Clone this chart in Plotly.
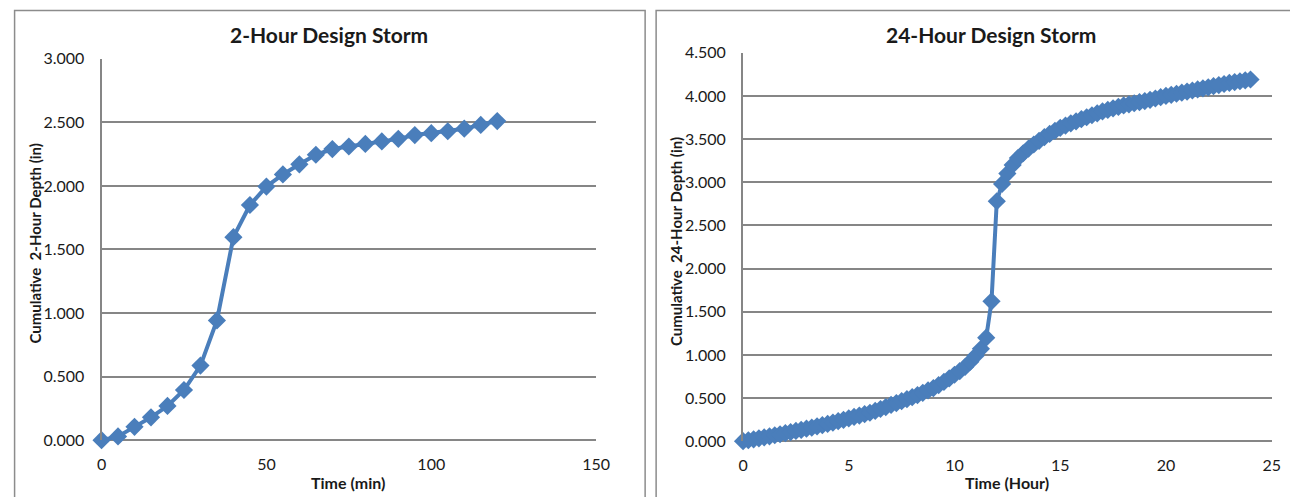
import plotly.graph_objects as go

# ---------------- data ----------------
time_2hr_min = [0, 5, 10, 15, 20, 25, 30, 35, 40, 45, 50, 55, 60, 65, 70, 75, 80,
                85, 90, 95, 100, 105, 110, 115, 120]
depth_2hr_in = [0.000, 0.030, 0.105, 0.180, 0.270, 0.395, 0.587, 0.942, 1.597, 1.850,
                1.995, 2.090, 2.170, 2.245, 2.290, 2.310, 2.330, 2.350, 2.370, 2.400,
                2.415, 2.430, 2.450, 2.480, 2.510]

time_24hr_hr = [0.00, 0.25, 0.50, 0.75, 1.00, 1.25, 1.50, 1.75, 2.00, 2.25, 2.50, 2.75,
                3.00, 3.25, 3.50, 3.75, 4.00, 4.25, 4.50, 4.75, 5.00, 5.25, 5.50, 5.75,
                6.00, 6.25, 6.50, 6.75, 7.00, 7.25, 7.50, 7.75, 8.00, 8.25, 8.50, 8.75,
                9.00, 9.25, 9.50, 9.75, 10.00, 10.25, 10.50, 10.75, 11.00, 11.25, 11.50, 11.75,
                12.00, 12.25, 12.50, 12.75, 13.00, 13.25, 13.50, 13.75, 14.00, 14.25, 14.50, 14.75,
                15.00, 15.25, 15.50, 15.75, 16.00, 16.25, 16.50, 16.75, 17.00, 17.25, 17.50, 17.75,
                18.00, 18.25, 18.50, 18.75, 19.00, 19.25, 19.50, 19.75, 20.00, 20.25, 20.50, 20.75,
                21.00, 21.25, 21.50, 21.75, 22.00, 22.25, 22.50, 22.75, 23.00, 23.25, 23.50, 23.75,
                24.00]
depth_24hr_in = [0.000, 0.011, 0.022, 0.034, 0.045, 0.057, 0.069, 0.081, 0.093, 0.106, 0.119, 0.132,
                 0.145, 0.158, 0.172, 0.186, 0.200, 0.216, 0.232, 0.248, 0.265, 0.281, 0.297, 0.313,
                 0.330, 0.351, 0.373, 0.396, 0.420, 0.442, 0.464, 0.487, 0.510, 0.535, 0.561, 0.588,
                 0.615, 0.650, 0.687, 0.727, 0.770, 0.813, 0.860, 0.922, 0.990, 1.070, 1.200, 1.620,
                 2.780, 2.980, 3.100, 3.200, 3.280, 3.336, 3.390, 3.437, 3.480, 3.522, 3.560, 3.596,
                 3.630, 3.656, 3.682, 3.706, 3.730, 3.753, 3.776, 3.798, 3.820, 3.838, 3.856, 3.873,
                 3.890, 3.903, 3.915, 3.928, 3.940, 3.955, 3.970, 3.985, 4.000, 4.013, 4.025, 4.038,
                 4.050, 4.063, 4.075, 4.088, 4.100, 4.113, 4.125, 4.138, 4.150, 4.160, 4.170, 4.180,
                 4.190]

y_ticks_2hr = [0, 0.5, 1.0, 1.5, 2.0, 2.5, 3.0]
y_ticks_24hr = [0, 0.5, 1.0, 1.5, 2.0, 2.5, 3.0, 3.5, 4.0, 4.5]
x_ticks_2hr = [0, 50, 100, 150]
x_ticks_24hr = [0, 5, 10, 15, 20, 25]

# ---------------- styling ----------------
W, H = 1290, 497
BLUE = "#4A7EBB"
GRID = "#868686"
FONT = "Lato, 'Open Sans', sans-serif"
TXT = "#1a1a1a"

# map a target on-picture pixel position to a paper fraction
SX, OX, SY, OY = 0.986, 4.4, 0.9606, 10.3

def px_x(p):
    return ((p - OX) / SX) / W

def px_y(p):
    return max(0.0, min(1.0, 1 - ((p - OY) / SY) / H))

fig = go.Figure()

marker = dict(symbol="diamond", size=14, color=BLUE, line=dict(width=0))
fig.add_trace(go.Scatter(x=time_2hr_min, y=depth_2hr_in, mode="lines+markers",
                         line=dict(color=BLUE, width=4), marker=marker,
                         xaxis="x", yaxis="y", showlegend=False, cliponaxis=False))
fig.add_trace(go.Scatter(x=time_24hr_hr, y=depth_24hr_in, mode="lines+markers",
                         line=dict(color=BLUE, width=4), marker=marker,
                         xaxis="x2", yaxis="y2", showlegend=False, cliponaxis=False))

def xaxis(domain, rng, ticks, anchor):
    return dict(domain=domain, range=rng, tickvals=ticks, ticktext=[str(t) for t in ticks],
                showgrid=False, zeroline=False, showline=False, ticks="",
                tickfont=dict(family=FONT, size=16, color=TXT), ticklabelstandoff=13,
                anchor=anchor, fixedrange=True)

def yaxis(domain, rng, ticks, anchor):
    return dict(domain=domain, range=rng, tickvals=ticks, tickformat=".3f",
                showgrid=True, gridcolor=GRID, gridwidth=2,
                zeroline=True, zerolinecolor=GRID, zerolinewidth=2,
                showline=True, linecolor=GRID, linewidth=2, ticks="",
                tickfont=dict(family=FONT, size=16, color=TXT), ticklabelstandoff=12,
                anchor=anchor, fixedrange=True)

fig.update_layout(
    width=W, height=H,
    margin=dict(l=0, r=0, t=0, b=0),
    paper_bgcolor="white", plot_bgcolor="white",
    xaxis=xaxis([px_x(101), px_x(596)], [0, 150], x_ticks_2hr, "y"),
    yaxis=yaxis([px_y(440), px_y(59)], [0, 3.0], y_ticks_2hr, "x"),
    xaxis2=xaxis([px_x(743), px_x(1272)], [0, 25], x_ticks_24hr, "y2"),
    yaxis2=yaxis([px_y(441), px_y(53)], [0, 4.5], y_ticks_24hr, "x2"),
)

# panel borders
shapes = [
    dict(type="rect", xref="paper", yref="paper", x0=px_x(14), x1=px_x(645),
         y0=-0.1, y1=0.999, line=dict(color="#8c8c8c", width=1.5)),
    dict(type="rect", xref="paper", yref="paper", x0=px_x(656), x1=1.1,
         y0=-0.1, y1=0.999, line=dict(color="#8c8c8c", width=1.5)),
]
fig.update_layout(shapes=shapes)

ann = []
def text(x, y, s, size, angle=0):
    ann.append(dict(xref="paper", yref="paper", x=px_x(x), y=px_y(y), text=f"<b>{s}</b>",
                    showarrow=False, textangle=angle, xanchor="center", yanchor="middle",
                    font=dict(family=FONT, size=size, color=TXT)))

text(329, 35, "2-Hour Design Storm", 21)
text(991, 35, "24-Hour Design Storm", 21)
text(348, 482, "Time (min)", 16)
text(1007, 482, "Time (Hour)", 16)
text(34, 244, "Cumulative  2-Hour Depth (in)", 15, -90)
text(676, 242, "Cumulative  24-Hour Depth (in)", 15, -90)
fig.update_layout(annotations=ann)

fig.write_html("out.html", config={"displayModeBar": False},
               post_script="document.body.style.margin='0';document.body.style.overflow='hidden';")
